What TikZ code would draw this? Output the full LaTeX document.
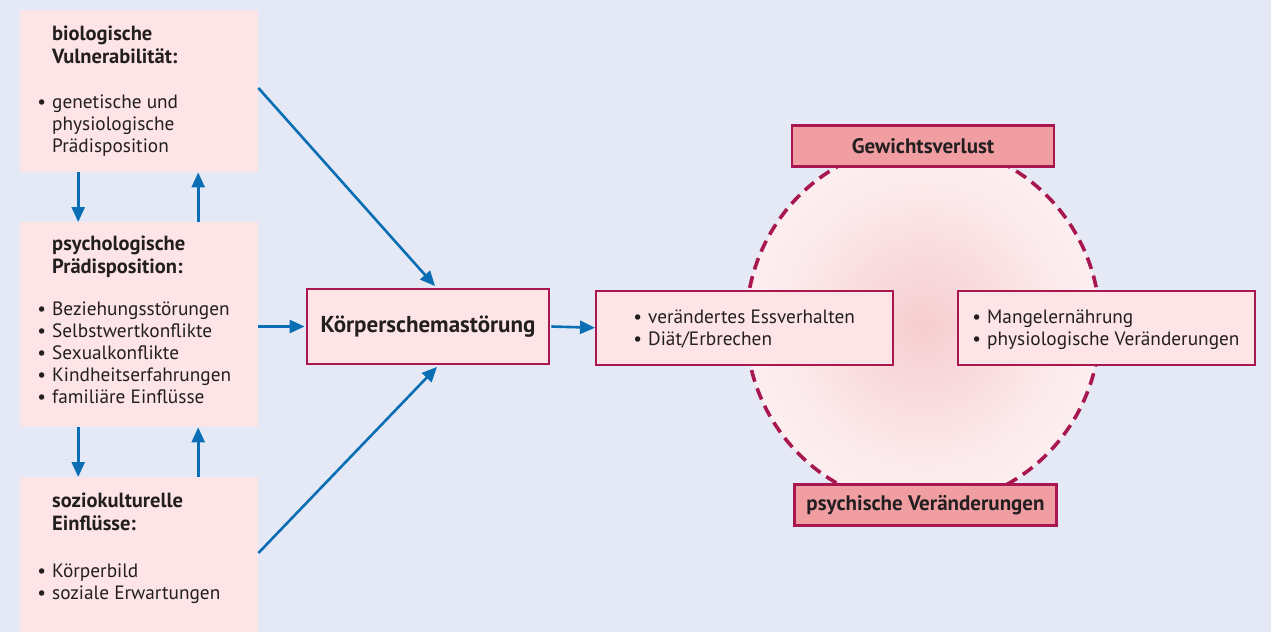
\documentclass[tikz,border=0pt]{standalone}
\usepackage{fontspec}
\setmainfont{PT Sans}
\usetikzlibrary{arrows.meta,shapes.geometric}
\definecolor{bgc}{HTML}{E4E9F5}
\definecolor{boxc}{HTML}{FDE4E6}
\definecolor{magc}{HTML}{A8174F}
\definecolor{labc}{HTML}{F19EA3}
\definecolor{arrc}{HTML}{0A6EB4}
\definecolor{txtc}{HTML}{231F20}
\definecolor{rcin}{HTML}{F6CDD0}
\definecolor{rcmid}{HTML}{FCEBEC}
\definecolor{rcout}{HTML}{FFFCFC}
\pgfdeclareradialshading{myrad}{\pgfpoint{0bp}{0bp}}{color(0bp)=(rcin); color(20bp)=(rcmid); color(50bp)=(rcout)}
\newcommand\bl{\llap{\textbullet\hspace{6pt}}}
\tikzset{
  srcbox/.style={fill=boxc, draw=none, minimum width=238pt, anchor=north west, inner sep=0pt},
  midbox/.style={fill=boxc, draw=magc, line width=1.5pt, minimum width=297pt, minimum height=74pt, anchor=north west, inner sep=0pt},
  ksbox/.style={fill=boxc, draw=magc, line width=2.8pt, minimum width=242pt, minimum height=75pt, inner sep=0pt, font=\fontsize{23}{26}\selectfont\bfseries},
  labbox/.style={fill=labc, draw=magc, line width=2.8pt, minimum width=262pt, minimum height=41pt, inner sep=0pt, font=\fontsize{21}{24}\selectfont\bfseries},
  txt/.style={anchor=north west, inner sep=0pt, align=left, text=txtc, font=\fontsize{19.3}{22}\selectfont},
  head/.style={txt, font=\fontsize{20.5}{23}\selectfont\bfseries},
  arr/.style={draw=arrc, line width=2.6pt, -{Triangle[width=13pt,length=15pt]}},
}
\begin{document}
\begin{tikzpicture}[x=1pt,y=-1pt, text=txtc]
\fill[bgc] (0,0) rectangle (1271,632);
\useasboundingbox (0,0) rectangle (1271,632);
% source boxes
\node[srcbox, minimum height=162pt] (bio) at (20,10) {};
\node[srcbox, minimum height=205pt] (psy) at (20,222) {};
\node[srcbox, minimum height=155pt] (soz) at (20,477) {};
\node[head] (biot) at (52,25.5) {biologische\\Vulnerabilität:};
\node[txt] (bioi) at (52,95) {\bl genetische und\\physiologische\\Prädisposition};
\node[head] (psyt) at (52,235.5) {psychologische\\Prädisposition:};
\node[txt] (psyi) at (52,302) {\bl Beziehungsstörungen\\\bl Selbstwertkonflikte\\\bl Sexualkonflikte\\\bl Kindheitserfahrungen\\\bl familiäre Einflüsse};
\node[head] (sozt) at (52,492.5) {soziokulturelle\\Einflüsse:};
\node[txt] (sozi) at (52,564) {\bl Körperbild\\\bl soziale Erwartungen};
% ellipse
\node[draw=none, shading=myrad, ellipse, minimum width=354pt, minimum height=362pt, inner sep=0pt] (ell) at (923,325) {};
\draw[magc, line width=3.6pt, dash pattern=on 12pt off 7pt] (ell.center) ellipse[x radius=177pt, y radius=181pt];
% center boxes
\node[ksbox] (ks) at (428,326.5) {Körperschemastörung};
\node[midbox] (mid) at (595,290) {};
\node[midbox] (rgt) at (957,290) {};
\node[txt] (midt) at (648,310) {\bl verändertes Essverhalten\\\bl Diät/Erbrechen};
\node[txt] (rgtt) at (987,310) {\bl Mangelernährung\\\bl physiologische Veränderungen};
\node[labbox] (gw) at (923,146) {Gewichtsverlust};
\node[labbox] (pv) at (925.5,505) {psychische Veränderungen};
% arrows
\draw[arr] ([xshift=-61pt]bio.south) -- ([xshift=-61pt]psy.north);
\draw[arr] ([xshift=59pt]psy.north) -- ([xshift=59pt]bio.south);
\draw[arr] ([xshift=-61pt]psy.south) -- ([xshift=-61pt]soz.north);
\draw[arr] ([xshift=59pt]soz.north) -- ([xshift=59pt]psy.south);
\draw[arr] ([yshift=-78pt]bio.north east) -- ([xshift=7pt,yshift=1.5pt]ks.north);
\draw[arr] (psy.east |- ks.west) -- ([xshift=-1pt]ks.west);
\draw[arr] ([yshift=-76pt]soz.north east) -- ([xshift=9pt,yshift=-1.5pt]ks.south);
\draw[arr] ([xshift=1pt]ks.east) -- (mid.west);
\end{tikzpicture}
\end{document}
